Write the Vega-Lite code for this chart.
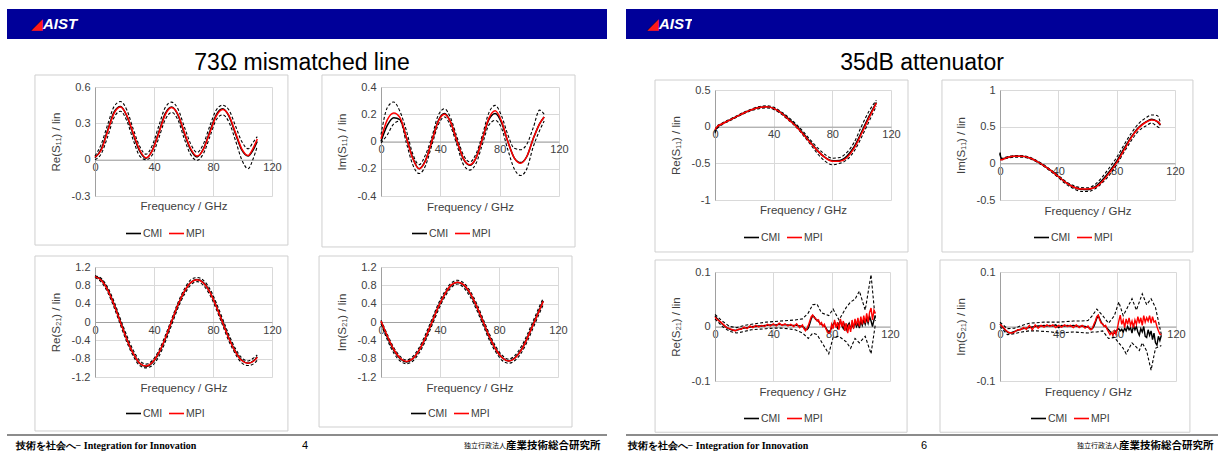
{
"$schema": "https://vega.github.io/schema/vega-lite/v6.json",
"padding": {"left": 7, "top": 9, "right": 0, "bottom": 0},
"background": "white",
"config": {
 "view": {"stroke": null},
 "font": "Liberation Sans",
 "axis": {"grid": true, "gridColor": "#d9d9d9", "gridWidth": 1, "domainColor": "#a0a0a0", "domainWidth": 1, "ticks": false, "labelFont": "Liberation Sans", "labelFontSize": 11, "labelColor": "#404040", "titleFont": "Liberation Sans", "titleFontSize": 11.5, "titleFontWeight": "normal", "titleColor": "#404040", "labelFlush": false, "labelOverlap": false},
 "axisX": {"labelPadding": 2},
 "axisY": {"labelPadding": 5, "titlePadding": 10},
 "legend": {"orient": "none", "direction": "horizontal", "symbolType": "stroke", "symbolSize": 225, "symbolStrokeWidth": 1.6, "labelFontSize": 10.5, "labelColor": "#404040", "labelFont": "Liberation Sans", "columnPadding": 2, "labelOffset": 1, "padding": 0}
},
"resolve": {"scale": {"color": "independent"}, "legend": {"color": "independent"}},
"spacing": 19,
"datasets": {
 "p1s": [
  {"f":0,"CMI":0.015,"MPI":0.02},{"f":4.3,"CMI":0.09,"MPI":0.08},{"f":8.6,"CMI":0.245,"MPI":0.235},{"f":13,"CMI":0.395,"MPI":0.385},{"f":17.3,"CMI":0.44,"MPI":0.435},{"f":21.6,"CMI":0.36,"MPI":0.365},{"f":26,"CMI":0.205,"MPI":0.215},{"f":30.3,"CMI":0.07,"MPI":0.08},{"f":34.6,"CMI":0.012,"MPI":0.015},{"f":38.9,"CMI":0.08,"MPI":0.075},{"f":43.3,"CMI":0.23,"MPI":0.22},{"f":47.6,"CMI":0.38,"MPI":0.37},{"f":51.9,"CMI":0.435,"MPI":0.43},{"f":56.2,"CMI":0.37,"MPI":0.375},{"f":60.6,"CMI":0.215,"MPI":0.225},{"f":64.9,"CMI":0.08,"MPI":0.09},{"f":69.2,"CMI":0.022,"MPI":0.03},{"f":73.5,"CMI":0.09,"MPI":0.085},{"f":77.9,"CMI":0.235,"MPI":0.225},{"f":82.2,"CMI":0.37,"MPI":0.36},{"f":86.5,"CMI":0.42,"MPI":0.415},{"f":90.8,"CMI":0.36,"MPI":0.365},{"f":95.2,"CMI":0.215,"MPI":0.225},{"f":99.5,"CMI":0.08,"MPI":0.09},{"f":103.8,"CMI":0.03,"MPI":0.035},{"f":107,"CMI":0.075,"MPI":0.09},{"f":110,"CMI":0.15,"MPI":0.17}
 ],
 "p1d": [
  {"f":0,"lo":0.0,"hi":0.03},{"f":4.3,"lo":0.05,"hi":0.13},{"f":8.6,"lo":0.19,"hi":0.29},{"f":13,"lo":0.35,"hi":0.44},{"f":17.3,"lo":0.4,"hi":0.48},{"f":21.6,"lo":0.32,"hi":0.41},{"f":26,"lo":0.16,"hi":0.25},{"f":30.3,"lo":0.03,"hi":0.11},{"f":34.6,"lo":0.0,"hi":0.045},{"f":38.9,"lo":0.04,"hi":0.12},{"f":43.3,"lo":0.18,"hi":0.28},{"f":47.6,"lo":0.33,"hi":0.43},{"f":51.9,"lo":0.39,"hi":0.475},{"f":56.2,"lo":0.33,"hi":0.42},{"f":60.6,"lo":0.17,"hi":0.27},{"f":64.9,"lo":0.04,"hi":0.13},{"f":69.2,"lo":-0.005,"hi":0.06},{"f":73.5,"lo":0.05,"hi":0.13},{"f":77.9,"lo":0.19,"hi":0.28},{"f":82.2,"lo":0.33,"hi":0.41},{"f":86.5,"lo":0.37,"hi":0.45},{"f":90.8,"lo":0.31,"hi":0.41},{"f":95.2,"lo":0.16,"hi":0.28},{"f":99.5,"lo":0.0,"hi":0.15},{"f":103.8,"lo":-0.075,"hi":0.09},{"f":107,"lo":0.0,"hi":0.14},{"f":110,"lo":0.11,"hi":0.19}
 ],
 "p2s": [
  {"f":0,"CMI":0.0,"MPI":0.02},{"f":4.3,"CMI":0.12,"MPI":0.16},{"f":8.6,"CMI":0.175,"MPI":0.21},{"f":12.8,"CMI":0.16,"MPI":0.175},{"f":17.1,"CMI":0.03,"MPI":0.03},{"f":21.4,"CMI":-0.12,"MPI":-0.125},{"f":25.7,"CMI":-0.2,"MPI":-0.2},{"f":29.9,"CMI":-0.14,"MPI":-0.145},{"f":34.2,"CMI":0.0,"MPI":0.0},{"f":38.5,"CMI":0.15,"MPI":0.145},{"f":42.8,"CMI":0.205,"MPI":0.2},{"f":47,"CMI":0.14,"MPI":0.14},{"f":51.3,"CMI":0.0,"MPI":0.0},{"f":55.6,"CMI":-0.13,"MPI":-0.125},{"f":59.9,"CMI":-0.175,"MPI":-0.17},{"f":64.1,"CMI":-0.12,"MPI":-0.12},{"f":68.4,"CMI":0.02,"MPI":0.02},{"f":72.7,"CMI":0.16,"MPI":0.17},{"f":77,"CMI":0.205,"MPI":0.225},{"f":81.2,"CMI":0.14,"MPI":0.15},{"f":85.5,"CMI":0.0,"MPI":0.0},{"f":89.8,"CMI":-0.12,"MPI":-0.12},{"f":94.1,"CMI":-0.155,"MPI":-0.16},{"f":98.3,"CMI":-0.11,"MPI":-0.11},{"f":102.6,"CMI":0.02,"MPI":0.02},{"f":106.9,"CMI":0.13,"MPI":0.13},{"f":110,"CMI":0.18,"MPI":0.18}
 ],
 "p2d": [
  {"f":0,"lo":-0.01,"hi":0.05},{"f":4.3,"lo":0.05,"hi":0.25},{"f":8.6,"lo":0.13,"hi":0.29},{"f":12.8,"lo":0.15,"hi":0.22},{"f":17.1,"lo":-0.01,"hi":0.08},{"f":21.4,"lo":-0.17,"hi":-0.09},{"f":25.7,"lo":-0.235,"hi":-0.17},{"f":29.9,"lo":-0.18,"hi":-0.1},{"f":34.2,"lo":-0.03,"hi":0.03},{"f":38.5,"lo":0.12,"hi":0.19},{"f":42.8,"lo":0.18,"hi":0.24},{"f":47,"lo":0.11,"hi":0.17},{"f":51.3,"lo":-0.03,"hi":0.03},{"f":55.6,"lo":-0.17,"hi":-0.1},{"f":59.9,"lo":-0.21,"hi":-0.15},{"f":64.1,"lo":-0.16,"hi":-0.09},{"f":68.4,"lo":-0.02,"hi":0.05},{"f":72.7,"lo":0.12,"hi":0.21},{"f":77,"lo":0.155,"hi":0.265},{"f":81.2,"lo":0.1,"hi":0.19},{"f":85.5,"lo":-0.06,"hi":0.05},{"f":89.8,"lo":-0.2,"hi":-0.05},{"f":94.1,"lo":-0.25,"hi":-0.06},{"f":98.3,"lo":-0.2,"hi":-0.02},{"f":102.6,"lo":-0.04,"hi":0.1},{"f":106.9,"lo":0.08,"hi":0.23},{"f":110,"lo":0.15,"hi":0.2}
 ],
 "p3s": [
  {"f":0,"CMI":1.0,"MPI":0.99},{"f":4.3,"CMI":0.92,"MPI":0.91},{"f":8.7,"CMI":0.7,"MPI":0.69},{"f":13,"CMI":0.38,"MPI":0.37},{"f":17.3,"CMI":0.0,"MPI":-0.01},{"f":21.6,"CMI":-0.37,"MPI":-0.38},{"f":26,"CMI":-0.69,"MPI":-0.69},{"f":30.3,"CMI":-0.9,"MPI":-0.9},{"f":34.6,"CMI":-0.97,"MPI":-0.96},{"f":38.9,"CMI":-0.89,"MPI":-0.88},{"f":43.3,"CMI":-0.68,"MPI":-0.67},{"f":47.6,"CMI":-0.37,"MPI":-0.36},{"f":51.9,"CMI":0.0,"MPI":0.01},{"f":56.2,"CMI":0.36,"MPI":0.37},{"f":60.6,"CMI":0.66,"MPI":0.67},{"f":64.9,"CMI":0.86,"MPI":0.86},{"f":69.2,"CMI":0.93,"MPI":0.92},{"f":73.5,"CMI":0.86,"MPI":0.85},{"f":77.9,"CMI":0.66,"MPI":0.65},{"f":82.2,"CMI":0.35,"MPI":0.34},{"f":86.5,"CMI":0.0,"MPI":-0.01},{"f":90.8,"CMI":-0.35,"MPI":-0.36},{"f":95.2,"CMI":-0.64,"MPI":-0.65},{"f":99.5,"CMI":-0.83,"MPI":-0.84},{"f":103.8,"CMI":-0.9,"MPI":-0.9},{"f":108.1,"CMI":-0.83,"MPI":-0.84},{"f":110,"CMI":-0.76,"MPI":-0.77}
 ],
 "p3d": [
  {"f":0,"lo":0.97,"hi":1.01},{"f":4.3,"lo":0.87,"hi":0.95},{"f":8.7,"lo":0.64,"hi":0.75},{"f":13,"lo":0.31,"hi":0.44},{"f":17.3,"lo":-0.07,"hi":0.06},{"f":21.6,"lo":-0.44,"hi":-0.3},{"f":26,"lo":-0.75,"hi":-0.62},{"f":30.3,"lo":-0.95,"hi":-0.84},{"f":34.6,"lo":-1.0,"hi":-0.92},{"f":38.9,"lo":-0.95,"hi":-0.84},{"f":43.3,"lo":-0.75,"hi":-0.62},{"f":47.6,"lo":-0.44,"hi":-0.3},{"f":51.9,"lo":-0.07,"hi":0.06},{"f":56.2,"lo":0.3,"hi":0.42},{"f":60.6,"lo":0.6,"hi":0.72},{"f":64.9,"lo":0.81,"hi":0.92},{"f":69.2,"lo":0.88,"hi":0.97},{"f":73.5,"lo":0.8,"hi":0.91},{"f":77.9,"lo":0.59,"hi":0.72},{"f":82.2,"lo":0.28,"hi":0.42},{"f":86.5,"lo":-0.07,"hi":0.07},{"f":90.8,"lo":-0.42,"hi":-0.28},{"f":95.2,"lo":-0.7,"hi":-0.58},{"f":99.5,"lo":-0.89,"hi":-0.78},{"f":103.8,"lo":-0.95,"hi":-0.85},{"f":108.1,"lo":-0.9,"hi":-0.77},{"f":110,"lo":-0.83,"hi":-0.72}
 ],
 "p4s": [
  {"f":0,"CMI":0.0,"MPI":0.02},{"f":4.3,"CMI":-0.33,"MPI":-0.31},{"f":8.7,"CMI":-0.62,"MPI":-0.6},{"f":13,"CMI":-0.8,"MPI":-0.79},{"f":17.3,"CMI":-0.87,"MPI":-0.86},{"f":21.6,"CMI":-0.8,"MPI":-0.8},{"f":26,"CMI":-0.61,"MPI":-0.61},{"f":30.3,"CMI":-0.33,"MPI":-0.33},{"f":34.6,"CMI":0.0,"MPI":0.0},{"f":38.9,"CMI":0.33,"MPI":0.33},{"f":43.3,"CMI":0.61,"MPI":0.61},{"f":47.6,"CMI":0.8,"MPI":0.81},{"f":51.9,"CMI":0.87,"MPI":0.87},{"f":56.2,"CMI":0.8,"MPI":0.81},{"f":60.6,"CMI":0.61,"MPI":0.62},{"f":64.9,"CMI":0.33,"MPI":0.34},{"f":69.2,"CMI":0.0,"MPI":0.01},{"f":73.5,"CMI":-0.33,"MPI":-0.32},{"f":77.9,"CMI":-0.6,"MPI":-0.6},{"f":82.2,"CMI":-0.78,"MPI":-0.78},{"f":86.5,"CMI":-0.85,"MPI":-0.85},{"f":90.8,"CMI":-0.78,"MPI":-0.79},{"f":95.2,"CMI":-0.6,"MPI":-0.61},{"f":99.5,"CMI":-0.32,"MPI":-0.33},{"f":103.8,"CMI":0.0,"MPI":-0.01},{"f":108.1,"CMI":0.32,"MPI":0.31},{"f":110,"CMI":0.46,"MPI":0.45}
 ],
 "p4d": [
  {"f":0,"lo":-0.04,"hi":0.04},{"f":4.3,"lo":-0.39,"hi":-0.27},{"f":8.7,"lo":-0.68,"hi":-0.56},{"f":13,"lo":-0.85,"hi":-0.75},{"f":17.3,"lo":-0.91,"hi":-0.83},{"f":21.6,"lo":-0.85,"hi":-0.75},{"f":26,"lo":-0.67,"hi":-0.55},{"f":30.3,"lo":-0.4,"hi":-0.26},{"f":34.6,"lo":-0.07,"hi":0.07},{"f":38.9,"lo":0.26,"hi":0.4},{"f":43.3,"lo":0.55,"hi":0.67},{"f":47.6,"lo":0.75,"hi":0.85},{"f":51.9,"lo":0.83,"hi":0.91},{"f":56.2,"lo":0.74,"hi":0.85},{"f":60.6,"lo":0.54,"hi":0.67},{"f":64.9,"lo":0.26,"hi":0.4},{"f":69.2,"lo":-0.07,"hi":0.07},{"f":73.5,"lo":-0.4,"hi":-0.26},{"f":77.9,"lo":-0.66,"hi":-0.54},{"f":82.2,"lo":-0.84,"hi":-0.73},{"f":86.5,"lo":-0.9,"hi":-0.81},{"f":90.8,"lo":-0.84,"hi":-0.73},{"f":95.2,"lo":-0.67,"hi":-0.53},{"f":99.5,"lo":-0.4,"hi":-0.25},{"f":103.8,"lo":-0.08,"hi":0.07},{"f":108.1,"lo":0.24,"hi":0.39},{"f":110,"lo":0.38,"hi":0.52}
 ],
 "p5s": [
  {"f":0,"CMI":-0.07,"MPI":-0.04},{"f":1,"CMI":-0.02,"MPI":-0.01},{"f":5,"CMI":0.04,"MPI":0.04},{"f":10,"CMI":0.09,"MPI":0.09},{"f":15,"CMI":0.14,"MPI":0.14},{"f":20,"CMI":0.19,"MPI":0.19},{"f":25,"CMI":0.23,"MPI":0.23},{"f":30,"CMI":0.26,"MPI":0.26},{"f":35,"CMI":0.27,"MPI":0.27},{"f":40,"CMI":0.25,"MPI":0.25},{"f":45,"CMI":0.19,"MPI":0.19},{"f":50,"CMI":0.11,"MPI":0.1},{"f":55,"CMI":0.02,"MPI":0.01},{"f":60,"CMI":-0.09,"MPI":-0.1},{"f":65,"CMI":-0.21,"MPI":-0.22},{"f":70,"CMI":-0.33,"MPI":-0.33},{"f":75,"CMI":-0.42,"MPI":-0.42},{"f":80,"CMI":-0.465,"MPI":-0.47},{"f":85,"CMI":-0.46,"MPI":-0.47},{"f":90,"CMI":-0.4,"MPI":-0.42},{"f":95,"CMI":-0.27,"MPI":-0.29},{"f":100,"CMI":-0.07,"MPI":-0.09},{"f":105,"CMI":0.14,"MPI":0.12},{"f":110,"CMI":0.33,"MPI":0.32}
 ],
 "p5d": [
  {"f":0,"lo":-0.09,"hi":-0.05},{"f":1,"lo":-0.04,"hi":0.0},{"f":5,"lo":0.03,"hi":0.05},{"f":10,"lo":0.08,"hi":0.1},{"f":15,"lo":0.13,"hi":0.15},{"f":20,"lo":0.18,"hi":0.2},{"f":25,"lo":0.22,"hi":0.24},{"f":30,"lo":0.245,"hi":0.275},{"f":35,"lo":0.255,"hi":0.285},{"f":40,"lo":0.235,"hi":0.265},{"f":45,"lo":0.175,"hi":0.205},{"f":50,"lo":0.09,"hi":0.13},{"f":55,"lo":0.0,"hi":0.04},{"f":60,"lo":-0.115,"hi":-0.065},{"f":65,"lo":-0.24,"hi":-0.18},{"f":70,"lo":-0.37,"hi":-0.29},{"f":75,"lo":-0.47,"hi":-0.38},{"f":80,"lo":-0.52,"hi":-0.43},{"f":85,"lo":-0.5,"hi":-0.42},{"f":90,"lo":-0.45,"hi":-0.35},{"f":95,"lo":-0.33,"hi":-0.21},{"f":100,"lo":-0.14,"hi":0.01},{"f":105,"lo":0.07,"hi":0.21},{"f":110,"lo":0.28,"hi":0.36}
 ],
 "p6s": [
  {"f":0,"CMI":0.14,"MPI":0.05},{"f":1,"CMI":0.06,"MPI":0.05},{"f":5,"CMI":0.08,"MPI":0.08},{"f":10,"CMI":0.095,"MPI":0.095},{"f":15,"CMI":0.095,"MPI":0.095},{"f":20,"CMI":0.075,"MPI":0.075},{"f":25,"CMI":0.03,"MPI":0.03},{"f":30,"CMI":-0.03,"MPI":-0.03},{"f":35,"CMI":-0.1,"MPI":-0.1},{"f":40,"CMI":-0.18,"MPI":-0.18},{"f":45,"CMI":-0.26,"MPI":-0.26},{"f":50,"CMI":-0.32,"MPI":-0.32},{"f":55,"CMI":-0.355,"MPI":-0.35},{"f":60,"CMI":-0.36,"MPI":-0.35},{"f":65,"CMI":-0.32,"MPI":-0.33},{"f":70,"CMI":-0.23,"MPI":-0.25},{"f":75,"CMI":-0.11,"MPI":-0.13},{"f":80,"CMI":0.03,"MPI":0.01},{"f":85,"CMI":0.2,"MPI":0.18},{"f":90,"CMI":0.36,"MPI":0.35},{"f":95,"CMI":0.49,"MPI":0.48},{"f":100,"CMI":0.565,"MPI":0.56},{"f":104,"CMI":0.6,"MPI":0.59},{"f":108,"CMI":0.565,"MPI":0.57},{"f":110,"CMI":0.52,"MPI":0.53}
 ],
 "p6d": [
  {"f":0,"lo":0.13,"hi":0.15},{"f":1,"lo":0.05,"hi":0.07},{"f":5,"lo":0.07,"hi":0.09},{"f":10,"lo":0.085,"hi":0.105},{"f":15,"lo":0.085,"hi":0.105},{"f":20,"lo":0.065,"hi":0.085},{"f":25,"lo":0.02,"hi":0.04},{"f":30,"lo":-0.04,"hi":-0.02},{"f":35,"lo":-0.115,"hi":-0.09},{"f":40,"lo":-0.195,"hi":-0.165},{"f":45,"lo":-0.28,"hi":-0.245},{"f":50,"lo":-0.34,"hi":-0.3},{"f":55,"lo":-0.38,"hi":-0.33},{"f":60,"lo":-0.385,"hi":-0.335},{"f":65,"lo":-0.35,"hi":-0.29},{"f":70,"lo":-0.27,"hi":-0.19},{"f":75,"lo":-0.16,"hi":-0.06},{"f":80,"lo":-0.02,"hi":0.08},{"f":85,"lo":0.15,"hi":0.25},{"f":90,"lo":0.31,"hi":0.41},{"f":95,"lo":0.44,"hi":0.54},{"f":100,"lo":0.51,"hi":0.62},{"f":104,"lo":0.55,"hi":0.66},{"f":108,"lo":0.5,"hi":0.65},{"f":110,"lo":0.48,"hi":0.55}
 ],
 "p7s": [
  {"f":0,"CMI":0.019,"MPI":0.017},{"f":2,"CMI":0.013,"MPI":0.012},{"f":4,"CMI":0.007,"MPI":0.008},{"f":6,"CMI":0.002,"MPI":0.003},{"f":8,"CMI":-0.002,"MPI":-0.002},{"f":10,"CMI":-0.005,"MPI":-0.004},{"f":12,"CMI":-0.007,"MPI":-0.006},{"f":14,"CMI":-0.007,"MPI":-0.008},{"f":16,"CMI":-0.006,"MPI":-0.005},{"f":18,"CMI":-0.004,"MPI":-0.005},{"f":20,"CMI":-0.003,"MPI":-0.001},{"f":22,"CMI":-0.002,"MPI":-0.004},{"f":24,"CMI":-0.001,"MPI":0.001},{"f":26,"CMI":0.0,"MPI":-0.002},{"f":28,"CMI":0.0,"MPI":0.002},{"f":30,"CMI":0.001,"MPI":-0.001},{"f":32,"CMI":0.001,"MPI":0.002},{"f":34,"CMI":0.002,"MPI":0.0},{"f":36,"CMI":0.002,"MPI":0.004},{"f":38,"CMI":0.003,"MPI":0.001},{"f":40,"CMI":0.003,"MPI":0.005},{"f":42,"CMI":0.003,"MPI":0.001},{"f":44,"CMI":0.004,"MPI":0.006},{"f":46,"CMI":0.003,"MPI":0.002},{"f":48,"CMI":0.003,"MPI":0.005},{"f":50,"CMI":0.003,"MPI":0.001},{"f":52,"CMI":0.002,"MPI":0.004},{"f":54,"CMI":0.002,"MPI":0.0},{"f":56,"CMI":0.002,"MPI":0.005},{"f":58,"CMI":0.001,"MPI":-0.002},{"f":60,"CMI":0.0,"MPI":0.003},{"f":61,"CMI":-0.002,"MPI":-0.004},{"f":62,"CMI":-0.005,"MPI":-0.008},{"f":63,"CMI":-0.006,"MPI":-0.004},{"f":64,"CMI":-0.003,"MPI":0.002},{"f":65,"CMI":0.005,"MPI":0.01},{"f":66,"CMI":0.014,"MPI":0.018},{"f":67,"CMI":0.02,"MPI":0.021},{"f":68,"CMI":0.018,"MPI":0.016},{"f":69,"CMI":0.013,"MPI":0.015},{"f":70,"CMI":0.012,"MPI":0.01},{"f":71,"CMI":0.009,"MPI":0.012},{"f":72,"CMI":0.006,"MPI":0.004},{"f":73,"CMI":0.004,"MPI":0.007},{"f":74,"CMI":0.002,"MPI":0.0},{"f":75,"CMI":0.001,"MPI":0.004},{"f":76,"CMI":-0.002,"MPI":-0.004},{"f":77,"CMI":-0.007,"MPI":-0.009},{"f":78,"CMI":-0.011,"MPI":-0.012},{"f":79,"CMI":-0.008,"MPI":-0.01},{"f":80,"CMI":-0.002,"MPI":0.004},{"f":81,"CMI":0.004,"MPI":-0.004},{"f":82,"CMI":0.008,"MPI":0.012},{"f":83,"CMI":0.002,"MPI":-0.002},{"f":84,"CMI":-0.003,"MPI":0.008},{"f":85,"CMI":0.006,"MPI":-0.006},{"f":86,"CMI":0.01,"MPI":0.014},{"f":87,"CMI":0.002,"MPI":0.0},{"f":88,"CMI":-0.004,"MPI":0.01},{"f":89,"CMI":0.004,"MPI":-0.008},{"f":90,"CMI":-0.006,"MPI":0.006},{"f":91,"CMI":0.002,"MPI":-0.012},{"f":92,"CMI":0.006,"MPI":0.004},{"f":93,"CMI":-0.004,"MPI":-0.01},{"f":94,"CMI":0.003,"MPI":0.012},{"f":95,"CMI":-0.002,"MPI":-0.004},{"f":96,"CMI":0.008,"MPI":0.014},{"f":97,"CMI":0.0,"MPI":0.002},{"f":98,"CMI":0.006,"MPI":0.016},{"f":99,"CMI":-0.003,"MPI":0.0},{"f":100,"CMI":0.01,"MPI":0.018},{"f":101,"CMI":0.002,"MPI":0.004},{"f":102,"CMI":0.012,"MPI":0.02},{"f":103,"CMI":0.004,"MPI":0.006},{"f":104,"CMI":0.015,"MPI":0.024},{"f":105,"CMI":0.006,"MPI":0.008},{"f":106,"CMI":0.018,"MPI":0.026},{"f":107,"CMI":0.01,"MPI":0.034},{"f":108,"CMI":0.0,"MPI":0.012},{"f":109,"CMI":0.012,"MPI":0.03},{"f":110,"CMI":0.02,"MPI":0.024}
 ],
 "p7d": [
  {"f":0,"lo":0.014,"hi":0.022},{"f":5,"lo":0.0,"hi":0.01},{"f":10,"lo":-0.009,"hi":0.0},{"f":15,"lo":-0.012,"hi":-0.002},{"f":20,"lo":-0.009,"hi":0.002},{"f":25,"lo":-0.006,"hi":0.004},{"f":30,"lo":-0.005,"hi":0.006},{"f":35,"lo":-0.004,"hi":0.008},{"f":40,"lo":-0.003,"hi":0.009},{"f":45,"lo":-0.003,"hi":0.01},{"f":50,"lo":-0.004,"hi":0.011},{"f":55,"lo":-0.006,"hi":0.012},{"f":60,"lo":-0.012,"hi":0.014},{"f":64,"lo":-0.022,"hi":0.025},{"f":67,"lo":-0.012,"hi":0.04},{"f":70,"lo":-0.015,"hi":0.041},{"f":73,"lo":-0.028,"hi":0.025},{"f":78,"lo":-0.05,"hi":0.02},{"f":81,"lo":-0.02,"hi":0.032},{"f":85,"lo":-0.018,"hi":0.012},{"f":90,"lo":-0.028,"hi":0.035},{"f":93,"lo":-0.04,"hi":0.045},{"f":96,"lo":-0.022,"hi":0.05},{"f":99,"lo":-0.03,"hi":0.065},{"f":103,"lo":-0.018,"hi":0.03},{"f":107,"lo":-0.05,"hi":0.095},{"f":110,"lo":0.005,"hi":0.01}
 ],
 "p8s": [
  {"f":0,"CMI":0.005,"MPI":0.004},{"f":2,"CMI":-0.002,"MPI":-0.001},{"f":4,"CMI":-0.008,"MPI":-0.007},{"f":6,"CMI":-0.012,"MPI":-0.011},{"f":8,"CMI":-0.011,"MPI":-0.012},{"f":10,"CMI":-0.009,"MPI":-0.01},{"f":12,"CMI":-0.007,"MPI":-0.006},{"f":14,"CMI":-0.005,"MPI":-0.006},{"f":16,"CMI":-0.004,"MPI":-0.002},{"f":18,"CMI":-0.003,"MPI":-0.005},{"f":20,"CMI":-0.002,"MPI":0.002},{"f":22,"CMI":-0.001,"MPI":-0.006},{"f":24,"CMI":0.0,"MPI":0.003},{"f":26,"CMI":0.001,"MPI":-0.003},{"f":28,"CMI":0.001,"MPI":0.002},{"f":30,"CMI":0.002,"MPI":-0.001},{"f":32,"CMI":0.001,"MPI":0.003},{"f":34,"CMI":0.002,"MPI":0.0},{"f":36,"CMI":0.001,"MPI":0.003},{"f":38,"CMI":0.003,"MPI":-0.002},{"f":40,"CMI":-0.002,"MPI":0.002},{"f":42,"CMI":0.002,"MPI":-0.001},{"f":44,"CMI":0.001,"MPI":0.003},{"f":46,"CMI":0.002,"MPI":0.0},{"f":48,"CMI":0.001,"MPI":0.002},{"f":50,"CMI":0.002,"MPI":-0.002},{"f":52,"CMI":0.001,"MPI":0.003},{"f":54,"CMI":0.0,"MPI":-0.002},{"f":56,"CMI":0.001,"MPI":0.002},{"f":58,"CMI":0.0,"MPI":-0.003},{"f":60,"CMI":-0.001,"MPI":0.001},{"f":61,"CMI":-0.003,"MPI":-0.004},{"f":62,"CMI":-0.005,"MPI":-0.006},{"f":63,"CMI":-0.004,"MPI":-0.003},{"f":64,"CMI":0.0,"MPI":0.004},{"f":65,"CMI":0.007,"MPI":0.01},{"f":66,"CMI":0.015,"MPI":0.018},{"f":67,"CMI":0.02,"MPI":0.021},{"f":68,"CMI":0.014,"MPI":0.012},{"f":69,"CMI":0.008,"MPI":0.006},{"f":70,"CMI":0.004,"MPI":0.005},{"f":71,"CMI":0.001,"MPI":0.0},{"f":72,"CMI":0.0,"MPI":0.002},{"f":73,"CMI":-0.003,"MPI":-0.005},{"f":74,"CMI":-0.006,"MPI":-0.01},{"f":75,"CMI":-0.009,"MPI":-0.015},{"f":76,"CMI":-0.012,"MPI":-0.011},{"f":77,"CMI":-0.014,"MPI":-0.016},{"f":78,"CMI":-0.012,"MPI":-0.008},{"f":79,"CMI":-0.009,"MPI":-0.014},{"f":80,"CMI":-0.006,"MPI":-0.004},{"f":81,"CMI":-0.004,"MPI":0.01},{"f":82,"CMI":-0.008,"MPI":0.021},{"f":83,"CMI":-0.005,"MPI":0.004},{"f":84,"CMI":-0.01,"MPI":0.012},{"f":85,"CMI":-0.003,"MPI":-0.002},{"f":86,"CMI":-0.008,"MPI":0.014},{"f":87,"CMI":0.0,"MPI":0.004},{"f":88,"CMI":-0.006,"MPI":0.016},{"f":89,"CMI":-0.002,"MPI":0.002},{"f":90,"CMI":-0.012,"MPI":0.01},{"f":91,"CMI":0.002,"MPI":-0.002},{"f":92,"CMI":-0.006,"MPI":0.012},{"f":93,"CMI":0.0,"MPI":0.004},{"f":94,"CMI":-0.01,"MPI":0.018},{"f":95,"CMI":-0.016,"MPI":0.006},{"f":96,"CMI":-0.004,"MPI":0.016},{"f":97,"CMI":-0.01,"MPI":0.002},{"f":98,"CMI":0.0,"MPI":0.02},{"f":99,"CMI":-0.018,"MPI":0.008},{"f":100,"CMI":-0.02,"MPI":0.016},{"f":101,"CMI":-0.006,"MPI":0.01},{"f":102,"CMI":-0.016,"MPI":0.02},{"f":103,"CMI":-0.008,"MPI":0.006},{"f":104,"CMI":-0.024,"MPI":0.018},{"f":105,"CMI":-0.012,"MPI":0.008},{"f":106,"CMI":-0.03,"MPI":0.01},{"f":107,"CMI":-0.034,"MPI":0.0},{"f":108,"CMI":-0.018,"MPI":-0.008},{"f":109,"CMI":-0.026,"MPI":-0.014},{"f":110,"CMI":-0.016,"MPI":-0.015}
 ],
 "p8d": [
  {"f":0,"lo":0.0,"hi":0.008},{"f":5,"lo":-0.015,"hi":-0.004},{"f":10,"lo":-0.013,"hi":-0.003},{"f":15,"lo":-0.01,"hi":0.002},{"f":20,"lo":-0.008,"hi":0.006},{"f":25,"lo":-0.008,"hi":0.007},{"f":30,"lo":-0.009,"hi":0.008},{"f":35,"lo":-0.01,"hi":0.008},{"f":40,"lo":-0.012,"hi":0.008},{"f":45,"lo":-0.011,"hi":0.009},{"f":50,"lo":-0.01,"hi":0.01},{"f":55,"lo":-0.011,"hi":0.01},{"f":60,"lo":-0.012,"hi":0.011},{"f":63,"lo":-0.01,"hi":0.02},{"f":66,"lo":-0.01,"hi":0.032},{"f":70,"lo":-0.008,"hi":0.02},{"f":74,"lo":-0.022,"hi":0.006},{"f":78,"lo":-0.02,"hi":0.02},{"f":81,"lo":-0.03,"hi":0.045},{"f":84,"lo":-0.04,"hi":0.02},{"f":86,"lo":-0.05,"hi":0.03},{"f":90,"lo":-0.03,"hi":0.051},{"f":93,"lo":-0.038,"hi":0.03},{"f":95,"lo":-0.044,"hi":0.045},{"f":97,"lo":-0.03,"hi":0.06},{"f":100,"lo":-0.045,"hi":0.04},{"f":103,"lo":-0.08,"hi":0.051},{"f":106,"lo":-0.04,"hi":0.035},{"f":110,"lo":-0.035,"hi":-0.015}
 ],
 "frame": [{"panel": "box"}]
},
"hconcat": [
 {"spacing": 0, "resolve": {"scale": {"color": "independent"}, "legend": {"color": "independent"}},
  "vconcat": [
  {"columns": 6, "spacing": 0, "bounds": "flush", "align": "each", "resolve": {"scale": {"color": "independent"}, "legend": {"color": "independent"}},
   "concat": [
    {"width": 72, "height": 30, "view": {"fill": "#000099"}, "data": {"values": [{"logo": "◢", "name": "AIST"}]}, "layer": [
      {"mark": {"type": "text", "align": "right", "color": "#ff1a1a", "fontSize": 15}, "encoding": {"text": {"field": "logo"}}},
      {"mark": {"type": "text", "align": "left", "color": "#ffffff", "fontSize": 15, "fontWeight": "bold", "fontStyle": "italic"}, "encoding": {"text": {"field": "name"}}}]},
    {"width": 16, "height": 30, "view": {"fill": "#000099"}, "data": {"values": []}, "mark": "point"},
    {"width": 177, "height": 30, "view": {"fill": "#000099"}, "data": {"values": []}, "mark": "point"},
    {"width": 109, "height": 30, "view": {"fill": "#000099"}, "data": {"values": []}, "mark": "point"},
    {"width": 178, "height": 30, "view": {"fill": "#000099"}, "data": {"values": []}, "mark": "point"},
    {"width": 48, "height": 30, "view": {"fill": "#000099"}, "data": {"values": []}, "mark": "point"},

    {"width": 1, "height": 48, "data": {"values": []}, "mark": "point"},
    {"width": 1, "height": 48, "data": {"values": []}, "mark": "point"},
    {"width": 1, "height": 48, "data": {"values": []}, "mark": "point"},
    {"width": 60, "height": 48, "data": {"values": [{"t": "73Ω mismatched line"}]}, "mark": {"type": "text", "fontSize": 23, "color": "#000000"}, "encoding": {"text": {"field": "t"}}},
    {"width": 1, "height": 48, "data": {"values": []}, "mark": "point"},
    {"width": 1, "height": 48, "data": {"values": []}, "mark": "point"},

    {"width": 1, "height": 109, "data": {"values": []}, "mark": "point"},
    {"width": 1, "height": 109, "data": {"values": []}, "mark": "point"},
    {"width": 177, "height": 109,
     "layer": [
      {"data": {"name": "frame"}, "mark": {"type": "rect", "filled": false, "color": "#cfcfcf", "strokeWidth": 1, "opacity": 1, "clip": false}, "encoding": {
        "x": {"datum": -40.7, "type": "quantitative", "scale": {"domain": [0, 120], "nice": false, "zero": false}, "axis": {"values": [0, 40, 80, 120], "offset": -36.33, "title": "Frequency / GHz", "titleY": 47.3, "titleBaseline": "middle"}}, "x2": {"datum": 130.8},
        "y": {"datum": 0.699, "type": "quantitative", "scale": {"domain": [-0.3, 0.6], "nice": false, "zero": false}, "axis": {"values": [-0.3, 0, 0.3, 0.6], "title": "Re(S₁₁) / lin", "format": ".1~f", "labelExpr": "replace(datum.label, '−', '-')"}}, "y2": {"datum": -0.705}}},
      {"data": {"name": "p1d"}, "transform": [{"fold": ["lo", "hi"], "as": ["s", "v"]}], "mark": {"type": "line", "color": "#000000", "strokeWidth": 1.1, "strokeDash": [3, 2], "interpolate": "monotone"}, "encoding": {
        "x": {"field": "f", "type": "quantitative", "axis": {"values": [0, 40, 80, 120], "offset": -36.33, "title": "Frequency / GHz", "titleY": 47.3, "titleBaseline": "middle"}},
        "y": {"field": "v", "type": "quantitative", "axis": {"values": [-0.3, 0, 0.3, 0.6], "title": "Re(S₁₁) / lin", "format": ".1~f", "labelExpr": "replace(datum.label, '−', '-')"}},
        "detail": {"field": "s", "type": "nominal"}}},
      {"data": {"name": "p1s"}, "transform": [{"fold": ["CMI", "MPI"], "as": ["s", "v"]}], "mark": {"type": "line", "strokeWidth": 1.5, "interpolate": "monotone"}, "encoding": {
        "x": {"field": "f", "type": "quantitative", "axis": {"values": [0, 40, 80, 120], "offset": -36.33, "title": "Frequency / GHz", "titleY": 47.3, "titleBaseline": "middle"}},
        "y": {"field": "v", "type": "quantitative", "axis": {"values": [-0.3, 0, 0.3, 0.6], "title": "Re(S₁₁) / lin", "format": ".1~f", "labelExpr": "replace(datum.label, '−', '-')"}},
        "color": {"field": "s", "type": "nominal", "scale": {"domain": ["CMI", "MPI"], "range": ["#000000", "#ff0000"]}, "legend": {"legendX": 30, "legendY": 138, "title": null}}}}]},
    {"width": 1, "height": 109, "data": {"values": []}, "mark": "point"},
    {"width": 178, "height": 109,
     "layer": [
      {"data": {"name": "frame"}, "mark": {"type": "rect", "filled": false, "color": "#cfcfcf", "strokeWidth": 1, "opacity": 1, "clip": false}, "encoding": {
        "x": {"datum": -39.8, "type": "quantitative", "scale": {"domain": [0, 120], "nice": false, "zero": false}, "axis": {"values": [0, 40, 80, 120], "offset": -54.5, "title": "Frequency / GHz", "titleY": 65.5, "titleBaseline": "middle"}}, "x2": {"datum": 130.8},
        "y": {"datum": 0.488, "type": "quantitative", "scale": {"domain": [-0.4, 0.4], "nice": false, "zero": false}, "axis": {"values": [-0.4, -0.2, 0, 0.2, 0.4], "title": "Im(S₁₁) / lin", "format": ".1~f", "labelExpr": "replace(datum.label, '−', '-')"}}, "y2": {"datum": -0.774}}},
      {"data": {"name": "p2d"}, "transform": [{"fold": ["lo", "hi"], "as": ["s", "v"]}], "mark": {"type": "line", "color": "#000000", "strokeWidth": 1.1, "strokeDash": [3, 2], "interpolate": "monotone"}, "encoding": {
        "x": {"field": "f", "type": "quantitative", "axis": {"values": [0, 40, 80, 120], "offset": -54.5, "title": "Frequency / GHz", "titleY": 65.5, "titleBaseline": "middle"}},
        "y": {"field": "v", "type": "quantitative", "axis": {"values": [-0.4, -0.2, 0, 0.2, 0.4], "title": "Im(S₁₁) / lin", "format": ".1~f", "labelExpr": "replace(datum.label, '−', '-')"}},
        "detail": {"field": "s", "type": "nominal"}}},
      {"data": {"name": "p2s"}, "transform": [{"fold": ["CMI", "MPI"], "as": ["s", "v"]}], "mark": {"type": "line", "strokeWidth": 1.5, "interpolate": "monotone"}, "encoding": {
        "x": {"field": "f", "type": "quantitative", "axis": {"values": [0, 40, 80, 120], "offset": -54.5, "title": "Frequency / GHz", "titleY": 65.5, "titleBaseline": "middle"}},
        "y": {"field": "v", "type": "quantitative", "axis": {"values": [-0.4, -0.2, 0, 0.2, 0.4], "title": "Im(S₁₁) / lin", "format": ".1~f", "labelExpr": "replace(datum.label, '−', '-')"}},
        "color": {"field": "s", "type": "nominal", "scale": {"domain": ["CMI", "MPI"], "range": ["#000000", "#ff0000"]}, "legend": {"legendX": 30, "legendY": 138, "title": null}}}}]},
    {"width": 1, "height": 109, "data": {"values": []}, "mark": "point"},

    {"width": 1, "height": 71, "data": {"values": []}, "mark": "point"},
    {"width": 1, "height": 71, "data": {"values": []}, "mark": "point"},
    {"width": 1, "height": 71, "data": {"values": []}, "mark": "point"},
    {"width": 1, "height": 71, "data": {"values": []}, "mark": "point"},
    {"width": 1, "height": 71, "data": {"values": []}, "mark": "point"},
    {"width": 1, "height": 71, "data": {"values": []}, "mark": "point"},

    {"width": 1, "height": 110, "data": {"values": []}, "mark": "point"},
    {"width": 1, "height": 110, "data": {"values": []}, "mark": "point"},
    {"width": 177, "height": 110,
     "layer": [
      {"data": {"name": "frame"}, "mark": {"type": "rect", "filled": false, "color": "#cfcfcf", "strokeWidth": 1, "opacity": 1, "clip": false}, "encoding": {
        "x": {"datum": -40.7, "type": "quantitative", "scale": {"domain": [0, 120], "nice": false, "zero": false}, "axis": {"values": [0, 40, 80, 120], "offset": -55, "title": "Frequency / GHz", "titleY": 66, "titleBaseline": "middle"}}, "x2": {"datum": 130.8},
        "y": {"datum": 1.44, "type": "quantitative", "scale": {"domain": [-1.2, 1.2], "nice": false, "zero": false}, "axis": {"values": [-1.2, -0.8, -0.4, 0, 0.4, 0.8, 1.2], "title": "Re(S₂₁) / lin", "format": ".1~f", "labelExpr": "replace(datum.label, '−', '-')"}}, "y2": {"datum": -2.378}}},
      {"data": {"name": "p3d"}, "transform": [{"fold": ["lo", "hi"], "as": ["s", "v"]}], "mark": {"type": "line", "color": "#000000", "strokeWidth": 1.1, "strokeDash": [3, 2], "interpolate": "monotone"}, "encoding": {
        "x": {"field": "f", "type": "quantitative", "axis": {"values": [0, 40, 80, 120], "offset": -55, "title": "Frequency / GHz", "titleY": 66, "titleBaseline": "middle"}},
        "y": {"field": "v", "type": "quantitative", "axis": {"values": [-1.2, -0.8, -0.4, 0, 0.4, 0.8, 1.2], "title": "Re(S₂₁) / lin", "format": ".1~f", "labelExpr": "replace(datum.label, '−', '-')"}},
        "detail": {"field": "s", "type": "nominal"}}},
      {"data": {"name": "p3s"}, "transform": [{"fold": ["CMI", "MPI"], "as": ["s", "v"]}], "mark": {"type": "line", "strokeWidth": 1.5, "interpolate": "monotone"}, "encoding": {
        "x": {"field": "f", "type": "quantitative", "axis": {"values": [0, 40, 80, 120], "offset": -55, "title": "Frequency / GHz", "titleY": 66, "titleBaseline": "middle"}},
        "y": {"field": "v", "type": "quantitative", "axis": {"values": [-1.2, -0.8, -0.4, 0, 0.4, 0.8, 1.2], "title": "Re(S₂₁) / lin", "format": ".1~f", "labelExpr": "replace(datum.label, '−', '-')"}},
        "color": {"field": "s", "type": "nominal", "scale": {"domain": ["CMI", "MPI"], "range": ["#000000", "#ff0000"]}, "legend": {"legendX": 30, "legendY": 138, "title": null}}}}]},
    {"width": 1, "height": 110, "data": {"values": []}, "mark": "point"},
    {"width": 177, "height": 110,
     "layer": [
      {"data": {"name": "frame"}, "mark": {"type": "rect", "filled": false, "color": "#cfcfcf", "strokeWidth": 1, "opacity": 1, "clip": false}, "encoding": {
        "x": {"datum": -42.0, "type": "quantitative", "scale": {"domain": [0, 120], "nice": false, "zero": false}, "axis": {"values": [0, 40, 80, 120], "offset": -55, "title": "Frequency / GHz", "titleY": 66, "titleBaseline": "middle"}}, "x2": {"datum": 129.5},
        "y": {"datum": 1.44, "type": "quantitative", "scale": {"domain": [-1.2, 1.2], "nice": false, "zero": false}, "axis": {"values": [-1.2, -0.8, -0.4, 0, 0.4, 0.8, 1.2], "title": "Im(S₂₁) / lin", "format": ".1~f", "labelExpr": "replace(datum.label, '−', '-')"}}, "y2": {"datum": -2.291}}},
      {"data": {"name": "p4d"}, "transform": [{"fold": ["lo", "hi"], "as": ["s", "v"]}], "mark": {"type": "line", "color": "#000000", "strokeWidth": 1.1, "strokeDash": [3, 2], "interpolate": "monotone"}, "encoding": {
        "x": {"field": "f", "type": "quantitative", "axis": {"values": [0, 40, 80, 120], "offset": -55, "title": "Frequency / GHz", "titleY": 66, "titleBaseline": "middle"}},
        "y": {"field": "v", "type": "quantitative", "axis": {"values": [-1.2, -0.8, -0.4, 0, 0.4, 0.8, 1.2], "title": "Im(S₂₁) / lin", "format": ".1~f", "labelExpr": "replace(datum.label, '−', '-')"}},
        "detail": {"field": "s", "type": "nominal"}}},
      {"data": {"name": "p4s"}, "transform": [{"fold": ["CMI", "MPI"], "as": ["s", "v"]}], "mark": {"type": "line", "strokeWidth": 1.5, "interpolate": "monotone"}, "encoding": {
        "x": {"field": "f", "type": "quantitative", "axis": {"values": [0, 40, 80, 120], "offset": -55, "title": "Frequency / GHz", "titleY": 66, "titleBaseline": "middle"}},
        "y": {"field": "v", "type": "quantitative", "axis": {"values": [-1.2, -0.8, -0.4, 0, 0.4, 0.8, 1.2], "title": "Im(S₂₁) / lin", "format": ".1~f", "labelExpr": "replace(datum.label, '−', '-')"}},
        "color": {"field": "s", "type": "nominal", "scale": {"domain": ["CMI", "MPI"], "range": ["#000000", "#ff0000"]}, "legend": {"legendX": 29, "legendY": 138, "title": null}}}}]},
    {"width": 1, "height": 110, "data": {"values": []}, "mark": "point"},

    {"width": 1, "height": 57, "data": {"values": []}, "mark": "point"},
    {"width": 1, "height": 57, "data": {"values": []}, "mark": "point"},
    {"width": 1, "height": 57, "data": {"values": []}, "mark": "point"},
    {"width": 1, "height": 57, "data": {"values": []}, "mark": "point"},
    {"width": 1, "height": 57, "data": {"values": []}, "mark": "point"},
    {"width": 1, "height": 57, "data": {"values": []}, "mark": "point"}
   ]},
  {"columns": 3, "spacing": 0, "bounds": "flush", "align": "each",
   "concat": [
    {"width": 198, "height": 2, "view": {"fill": "#8c8c8c"}, "data": {"values": []}, "mark": "point"},
    {"width": 200, "height": 2, "view": {"fill": "#8c8c8c"}, "data": {"values": []}, "mark": "point"},
    {"width": 202, "height": 2, "view": {"fill": "#8c8c8c"}, "data": {"values": []}, "mark": "point"},
    {"width": 198, "height": 19, "data": {"values": [{"t": "技術を社会へ− Integration for Innovation"}]}, "mark": {"type": "text", "font": "Liberation Serif", "fontWeight": "bold", "fontSize": 10, "color": "#000000"}, "encoding": {"text": {"field": "t"}}},
    {"width": 200, "height": 19, "data": {"values": [{"t": "4"}]}, "mark": {"type": "text", "fontSize": 11, "color": "#000000"}, "encoding": {"text": {"field": "t"}}},
    {"width": 202, "height": 19, "data": {"values": [{"a": "独立行政法人", "b": "産業技術総合研究所"}]}, "layer": [
      {"mark": {"type": "text", "align": "right", "font": "Noto Sans CJK JP", "fontSize": 7, "color": "#000000"}, "encoding": {"text": {"field": "a"}}},
      {"mark": {"type": "text", "align": "left", "font": "Noto Sans CJK JP", "fontWeight": "bold", "fontSize": 10.5, "color": "#000000"}, "encoding": {"text": {"field": "b"}}}]}
   ]}
 ]},
 {"spacing": 0, "resolve": {"scale": {"color": "independent"}, "legend": {"color": "independent"}},
  "vconcat": [
  {"columns": 6, "spacing": 0, "bounds": "flush", "align": "each", "resolve": {"scale": {"color": "independent"}, "legend": {"color": "independent"}},
   "concat": [
    {"width": 66, "height": 30, "view": {"fill": "#000099"}, "data": {"values": [{"logo": "◢", "name": "AIST"}]}, "layer": [
      {"mark": {"type": "text", "align": "right", "color": "#ff1a1a", "fontSize": 15}, "encoding": {"text": {"field": "logo"}}},
      {"mark": {"type": "text", "align": "left", "color": "#ffffff", "fontSize": 15, "fontWeight": "bold", "fontStyle": "italic"}, "encoding": {"text": {"field": "name"}}}]},
    {"width": 23, "height": 30, "view": {"fill": "#000099"}, "data": {"values": []}, "mark": "point"},
    {"width": 176, "height": 30, "view": {"fill": "#000099"}, "data": {"values": []}, "mark": "point"},
    {"width": 109, "height": 30, "view": {"fill": "#000099"}, "data": {"values": []}, "mark": "point"},
    {"width": 176, "height": 30, "view": {"fill": "#000099"}, "data": {"values": []}, "mark": "point"},
    {"width": 42, "height": 30, "view": {"fill": "#000099"}, "data": {"values": []}, "mark": "point"},

    {"width": 1, "height": 51, "data": {"values": []}, "mark": "point"},
    {"width": 1, "height": 51, "data": {"values": []}, "mark": "point"},
    {"width": 1, "height": 51, "data": {"values": []}, "mark": "point"},
    {"width": 62, "height": 48, "data": {"values": [{"t": "35dB attenuator"}]}, "mark": {"type": "text", "fontSize": 23, "color": "#000000"}, "encoding": {"text": {"field": "t"}}},
    {"width": 1, "height": 51, "data": {"values": []}, "mark": "point"},
    {"width": 1, "height": 51, "data": {"values": []}, "mark": "point"},

    {"width": 1, "height": 110, "data": {"values": []}, "mark": "point"},
    {"width": 1, "height": 110, "data": {"values": []}, "mark": "point"},
    {"width": 176, "height": 110,
     "layer": [
      {"data": {"name": "frame"}, "mark": {"type": "rect", "filled": false, "color": "#cfcfcf", "strokeWidth": 1, "opacity": 1, "clip": false}, "encoding": {
        "x": {"datum": -40.9, "type": "quantitative", "scale": {"domain": [0, 120], "nice": false, "zero": false}, "axis": {"values": [0, 40, 80, 120], "offset": -73.33, "title": "Frequency / GHz", "titleY": 84.3, "titleBaseline": "middle"}}, "x2": {"datum": 131.6},
        "y": {"datum": 0.636, "type": "quantitative", "scale": {"domain": [-1, 0.5], "nice": false, "zero": false}, "axis": {"values": [-1, -0.5, 0, 0.5], "title": "Re(S₁₁) / lin", "format": ".1~f", "labelExpr": "replace(datum.label, '−', '-')"}}, "y2": {"datum": -1.709}}},
      {"data": {"name": "p5d"}, "transform": [{"fold": ["lo", "hi"], "as": ["s", "v"]}], "mark": {"type": "line", "color": "#000000", "strokeWidth": 1.1, "strokeDash": [3, 2], "interpolate": "monotone"}, "encoding": {
        "x": {"field": "f", "type": "quantitative", "axis": {"values": [0, 40, 80, 120], "offset": -73.33, "title": "Frequency / GHz", "titleY": 84.3, "titleBaseline": "middle"}},
        "y": {"field": "v", "type": "quantitative", "axis": {"values": [-1, -0.5, 0, 0.5], "title": "Re(S₁₁) / lin", "format": ".1~f", "labelExpr": "replace(datum.label, '−', '-')"}},
        "detail": {"field": "s", "type": "nominal"}}},
      {"data": {"name": "p5s"}, "transform": [{"fold": ["CMI", "MPI"], "as": ["s", "v"]}], "mark": {"type": "line", "strokeWidth": 1.5, "interpolate": "monotone"}, "encoding": {
        "x": {"field": "f", "type": "quantitative", "axis": {"values": [0, 40, 80, 120], "offset": -73.33, "title": "Frequency / GHz", "titleY": 84.3, "titleBaseline": "middle"}},
        "y": {"field": "v", "type": "quantitative", "axis": {"values": [-1, -0.5, 0, 0.5], "title": "Re(S₁₁) / lin", "format": ".1~f", "labelExpr": "replace(datum.label, '−', '-')"}},
        "color": {"field": "s", "type": "nominal", "scale": {"domain": ["CMI", "MPI"], "range": ["#000000", "#ff0000"]}, "legend": {"legendX": 28, "legendY": 139, "title": null}}}}]},
    {"width": 1, "height": 110, "data": {"values": []}, "mark": "point"},
    {"width": 175, "height": 110,
     "layer": [
      {"data": {"name": "frame"}, "mark": {"type": "rect", "filled": false, "color": "#cfcfcf", "strokeWidth": 1, "opacity": 1, "clip": false}, "encoding": {
        "x": {"datum": -39.8, "type": "quantitative", "scale": {"domain": [0, 120], "nice": false, "zero": false}, "axis": {"values": [0, 40, 80, 120], "offset": -36.67, "title": "Frequency / GHz", "titleY": 47.7, "titleBaseline": "middle"}}, "x2": {"datum": 132.3},
        "y": {"datum": 1.136, "type": "quantitative", "scale": {"domain": [-0.5, 1], "nice": false, "zero": false}, "axis": {"values": [-0.5, 0, 0.5, 1], "title": "Im(S₁₁) / lin", "format": ".1~f", "labelExpr": "replace(datum.label, '−', '-')"}}, "y2": {"datum": -1.209}}},
      {"data": {"name": "p6d"}, "transform": [{"fold": ["lo", "hi"], "as": ["s", "v"]}], "mark": {"type": "line", "color": "#000000", "strokeWidth": 1.1, "strokeDash": [3, 2], "interpolate": "monotone"}, "encoding": {
        "x": {"field": "f", "type": "quantitative", "axis": {"values": [0, 40, 80, 120], "offset": -36.67, "title": "Frequency / GHz", "titleY": 47.7, "titleBaseline": "middle"}},
        "y": {"field": "v", "type": "quantitative", "axis": {"values": [-0.5, 0, 0.5, 1], "title": "Im(S₁₁) / lin", "format": ".1~f", "labelExpr": "replace(datum.label, '−', '-')"}},
        "detail": {"field": "s", "type": "nominal"}}},
      {"data": {"name": "p6s"}, "transform": [{"fold": ["CMI", "MPI"], "as": ["s", "v"]}], "mark": {"type": "line", "strokeWidth": 1.5, "interpolate": "monotone"}, "encoding": {
        "x": {"field": "f", "type": "quantitative", "axis": {"values": [0, 40, 80, 120], "offset": -36.67, "title": "Frequency / GHz", "titleY": 47.7, "titleBaseline": "middle"}},
        "y": {"field": "v", "type": "quantitative", "axis": {"values": [-0.5, 0, 0.5, 1], "title": "Im(S₁₁) / lin", "format": ".1~f", "labelExpr": "replace(datum.label, '−', '-')"}},
        "color": {"field": "s", "type": "nominal", "scale": {"domain": ["CMI", "MPI"], "range": ["#000000", "#ff0000"]}, "legend": {"legendX": 33, "legendY": 139, "title": null}}}}]},
    {"width": 1, "height": 110, "data": {"values": []}, "mark": "point"},

    {"width": 1, "height": 72, "data": {"values": []}, "mark": "point"},
    {"width": 1, "height": 72, "data": {"values": []}, "mark": "point"},
    {"width": 1, "height": 72, "data": {"values": []}, "mark": "point"},
    {"width": 1, "height": 72, "data": {"values": []}, "mark": "point"},
    {"width": 1, "height": 72, "data": {"values": []}, "mark": "point"},
    {"width": 1, "height": 72, "data": {"values": []}, "mark": "point"},

    {"width": 1, "height": 109, "data": {"values": []}, "mark": "point"},
    {"width": 1, "height": 109, "data": {"values": []}, "mark": "point"},
    {"width": 175, "height": 109,
     "layer": [
      {"data": {"name": "frame"}, "mark": {"type": "rect", "filled": false, "color": "#cfcfcf", "strokeWidth": 1, "opacity": 1, "clip": false}, "encoding": {
        "x": {"datum": -41.1, "type": "quantitative", "scale": {"domain": [0, 120], "nice": false, "zero": false}, "axis": {"values": [0, 40, 80, 120], "offset": -54.5, "title": "Frequency / GHz", "titleY": 65.5, "titleBaseline": "middle"}}, "x2": {"datum": 131.7},
        "y": {"datum": 0.122, "type": "quantitative", "scale": {"domain": [-0.1, 0.1], "nice": false, "zero": false}, "axis": {"values": [-0.1, 0, 0.1], "title": "Re(S₂₁) / lin", "format": ".1~f", "labelExpr": "replace(datum.label, '−', '-')"}}, "y2": {"datum": -0.194}}},
      {"data": {"name": "p7d"}, "transform": [{"fold": ["lo", "hi"], "as": ["s", "v"]}], "mark": {"type": "line", "color": "#000000", "strokeWidth": 1.1, "strokeDash": [3, 2]}, "encoding": {
        "x": {"field": "f", "type": "quantitative", "axis": {"values": [0, 40, 80, 120], "offset": -54.5, "title": "Frequency / GHz", "titleY": 65.5, "titleBaseline": "middle"}},
        "y": {"field": "v", "type": "quantitative", "axis": {"values": [-0.1, 0, 0.1], "title": "Re(S₂₁) / lin", "format": ".1~f", "labelExpr": "replace(datum.label, '−', '-')"}},
        "detail": {"field": "s", "type": "nominal"}}},
      {"data": {"name": "p7s"}, "transform": [{"fold": ["CMI", "MPI"], "as": ["s", "v"]}], "mark": {"type": "line", "strokeWidth": 1.4}, "encoding": {
        "x": {"field": "f", "type": "quantitative", "axis": {"values": [0, 40, 80, 120], "offset": -54.5, "title": "Frequency / GHz", "titleY": 65.5, "titleBaseline": "middle"}},
        "y": {"field": "v", "type": "quantitative", "axis": {"values": [-0.1, 0, 0.1], "title": "Re(S₂₁) / lin", "format": ".1~f", "labelExpr": "replace(datum.label, '−', '-')"}},
        "color": {"field": "s", "type": "nominal", "scale": {"domain": ["CMI", "MPI"], "range": ["#000000", "#ff0000"]}, "legend": {"legendX": 28, "legendY": 138, "title": null}}}}]},
    {"width": 1, "height": 109, "data": {"values": []}, "mark": "point"},
    {"width": 176, "height": 109,
     "layer": [
      {"data": {"name": "frame"}, "mark": {"type": "rect", "filled": false, "color": "#cfcfcf", "strokeWidth": 1, "opacity": 1, "clip": false}, "encoding": {
        "x": {"datum": -40.9, "type": "quantitative", "scale": {"domain": [0, 120], "nice": false, "zero": false}, "axis": {"values": [0, 40, 80, 120], "offset": -54.5, "title": "Frequency / GHz", "titleY": 65.5, "titleBaseline": "middle"}}, "x2": {"datum": 129.5},
        "y": {"datum": 0.122, "type": "quantitative", "scale": {"domain": [-0.1, 0.1], "nice": false, "zero": false}, "axis": {"values": [-0.1, 0, 0.1], "title": "Im(S₂₁) / lin", "format": ".1~f", "labelExpr": "replace(datum.label, '−', '-')"}}, "y2": {"datum": -0.194}}},
      {"data": {"name": "p8d"}, "transform": [{"fold": ["lo", "hi"], "as": ["s", "v"]}], "mark": {"type": "line", "color": "#000000", "strokeWidth": 1.1, "strokeDash": [3, 2]}, "encoding": {
        "x": {"field": "f", "type": "quantitative", "axis": {"values": [0, 40, 80, 120], "offset": -54.5, "title": "Frequency / GHz", "titleY": 65.5, "titleBaseline": "middle"}},
        "y": {"field": "v", "type": "quantitative", "axis": {"values": [-0.1, 0, 0.1], "title": "Im(S₂₁) / lin", "format": ".1~f", "labelExpr": "replace(datum.label, '−', '-')"}},
        "detail": {"field": "s", "type": "nominal"}}},
      {"data": {"name": "p8s"}, "transform": [{"fold": ["CMI", "MPI"], "as": ["s", "v"]}], "mark": {"type": "line", "strokeWidth": 1.4}, "encoding": {
        "x": {"field": "f", "type": "quantitative", "axis": {"values": [0, 40, 80, 120], "offset": -54.5, "title": "Frequency / GHz", "titleY": 65.5, "titleBaseline": "middle"}},
        "y": {"field": "v", "type": "quantitative", "axis": {"values": [-0.1, 0, 0.1], "title": "Im(S₂₁) / lin", "format": ".1~f", "labelExpr": "replace(datum.label, '−', '-')"}},
        "color": {"field": "s", "type": "nominal", "scale": {"domain": ["CMI", "MPI"], "range": ["#000000", "#ff0000"]}, "legend": {"legendX": 30, "legendY": 138, "title": null}}}}]},
    {"width": 1, "height": 109, "data": {"values": []}, "mark": "point"},

    {"width": 1, "height": 53, "data": {"values": []}, "mark": "point"},
    {"width": 1, "height": 53, "data": {"values": []}, "mark": "point"},
    {"width": 1, "height": 53, "data": {"values": []}, "mark": "point"},
    {"width": 1, "height": 53, "data": {"values": []}, "mark": "point"},
    {"width": 1, "height": 53, "data": {"values": []}, "mark": "point"},
    {"width": 1, "height": 53, "data": {"values": []}, "mark": "point"}
   ]},
  {"columns": 4, "spacing": 0, "bounds": "flush", "align": "each",
   "concat": [
    {"width": 184, "height": 2, "view": {"fill": "#8c8c8c"}, "data": {"values": []}, "mark": "point"},
    {"width": 228, "height": 2, "view": {"fill": "#8c8c8c"}, "data": {"values": []}, "mark": "point"},
    {"width": 162, "height": 2, "view": {"fill": "#8c8c8c"}, "data": {"values": []}, "mark": "point"},
    {"width": 18, "height": 2, "view": {"fill": "#8c8c8c"}, "data": {"values": []}, "mark": "point"},
    {"width": 184, "height": 19, "data": {"values": [{"t": "技術を社会へ− Integration for Innovation"}]}, "mark": {"type": "text", "font": "Liberation Serif", "fontWeight": "bold", "fontSize": 10, "color": "#000000"}, "encoding": {"text": {"field": "t"}}},
    {"width": 228, "height": 19, "data": {"values": [{"t": "6"}]}, "mark": {"type": "text", "fontSize": 11, "color": "#000000"}, "encoding": {"text": {"field": "t"}}},
    {"width": 162, "height": 19, "data": {"values": [{"a": "独立行政法人", "b": "産業技術総合研究所"}]}, "layer": [
      {"mark": {"type": "text", "align": "right", "font": "Noto Sans CJK JP", "fontSize": 7, "color": "#000000"}, "encoding": {"text": {"field": "a"}}},
      {"mark": {"type": "text", "align": "left", "font": "Noto Sans CJK JP", "fontWeight": "bold", "fontSize": 10.5, "color": "#000000"}, "encoding": {"text": {"field": "b"}}}]},
    {"width": 18, "height": 19, "data": {"values": []}, "mark": "point"}
   ]}
 ]}
]
}
